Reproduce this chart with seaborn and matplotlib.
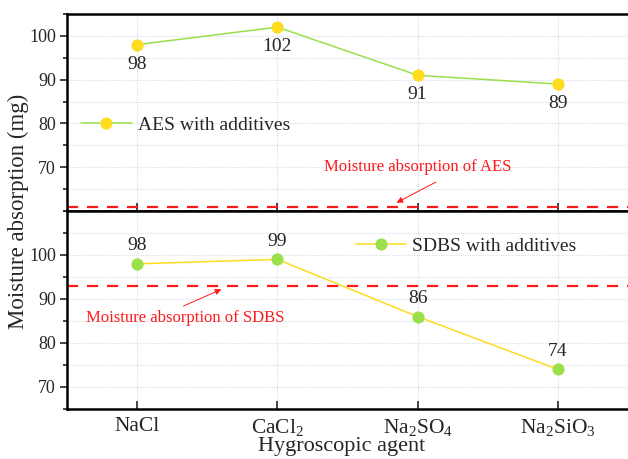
import matplotlib
matplotlib.use("Agg")
import matplotlib.pyplot as plt
import seaborn as sns
import pandas as pd
from matplotlib.ticker import MultipleLocator

sns.set_style("white")
plt.rcParams['font.family'] = ['Liberation Serif', 'DejaVu Serif']
plt.rcParams['mathtext.fontset'] = 'custom'
plt.rcParams['mathtext.rm'] = 'Liberation Serif'
plt.rcParams['mathtext.it'] = 'Liberation Serif:italic'

agents = ["NaCl", "CaCl$_2$", "Na$_2$SO$_4$", "Na$_2$SiO$_3$"]
aes_vals = [98, 102, 91, 89]
sdbs_vals = [98, 99, 86, 74]
aes_ref = 61
sdbs_ref = 93

df_aes = pd.DataFrame({"pos": range(len(agents)), "val": aes_vals})
df_sdbs = pd.DataFrame({"pos": range(len(agents)), "val": sdbs_vals})

fig = plt.figure(figsize=(6.28, 4.59), dpi=100)
ax1 = fig.add_axes([67/628, 1-211/459, 1-67/628, 197/459])
ax2 = fig.add_axes([67/628, 1-409/459, 1-67/628, 198/459])

green = "#9be04a"
yellow = "#ffdc1e"
red = "#ff1a1a"

sns.lineplot(data=df_aes, x="pos", y="val", ax=ax1, color=green, lw=1.1,
             marker="o", markersize=8, markerfacecolor=yellow, markeredgecolor=yellow,
             label="AES with additives")
sns.lineplot(data=df_sdbs, x="pos", y="val", ax=ax2, color=yellow, lw=1.1,
             marker="o", markersize=8, markerfacecolor=green, markeredgecolor=green,
             label="SDBS with additives")

ax1.axhline(aes_ref, color=red, ls=(0, (5, 4)), lw=1.6, zorder=1)
ax2.axhline(sdbs_ref, color=red, ls=(0, (5, 4)), lw=1.6, zorder=1)

for i, v in enumerate(aes_vals):
    ax1.annotate(str(v), (i, v), xytext=(0, -14), textcoords="offset points",
                 ha="center", va="center", fontsize=14)
for i, v in enumerate(sdbs_vals):
    ax2.annotate(str(v), (i, v), xytext=(0, 13), textcoords="offset points",
                 ha="center", va="center", fontsize=14)

ax1.set_ylim(60, 105)
ax2.set_ylim(65, 110)
for ax in (ax1, ax2):
    ax.set_xlim(-0.5, 3.5)
    ax.set_xticks(range(len(agents)))
    ax.yaxis.set_major_locator(MultipleLocator(10))
    ax.yaxis.set_minor_locator(MultipleLocator(5))
    ax.grid(True, which="both", color="#d8def0", ls=(0, (1, 1)), lw=0.8)
    ax.set_axisbelow(True)
    ax.tick_params(axis="y", which="major", direction="out", length=5, width=1.2,
                   labelsize=13, left=True, pad=3)
    ax.tick_params(axis="y", which="minor", direction="out", length=3, width=1.2, left=True)
    ax.tick_params(axis="x", direction="in", length=6, width=1.2, bottom=True, labelsize=15.5)
    for s in ("left", "top", "bottom"):
        ax.spines[s].set_linewidth(1.8)
        ax.spines[s].set_color("black")
    ax.spines["right"].set_visible(False)
    ax.set_xlabel("")
    ax.set_ylabel("")

ax1.set_yticks([70, 80, 90, 100])
ax2.set_yticks([70, 80, 90, 100])
ax1.set_xticklabels([])
ax2.set_xticklabels(agents)
ax2.tick_params(axis="x", pad=6)

leg1 = ax1.legend(loc="center left", bbox_to_anchor=(0.008, 0.435), frameon=False,
                  fontsize=14, handlelength=2.6, handletextpad=0.3, borderpad=0)
leg2 = ax2.legend(loc="center left", bbox_to_anchor=(0.497, 0.822), frameon=False,
                  fontsize=14, handlelength=2.6, handletextpad=0.3, borderpad=0)

ax1.text(2.0, 70.0, "Moisture absorption of AES", color=red, fontsize=12,
         ha="center", va="center")
ax1.annotate("", xy=(1.85, 61.9), xytext=(2.13, 66.6),
             arrowprops=dict(arrowstyle="-|>", color=red, lw=0.7, mutation_scale=9,
                             shrinkA=0, shrinkB=0))
ax2.text(0.34, 85.7, "Moisture absorption of SDBS", color=red, fontsize=12,
         ha="center", va="center")
ax2.annotate("", xy=(0.6, 92.2), xytext=(0.33, 88.4),
             arrowprops=dict(arrowstyle="-|>", color=red, lw=0.7, mutation_scale=9,
                             shrinkA=0, shrinkB=0))

fig.text(18/628, 1-211/459, "Moisture absorption (mg)", rotation=90, ha="center",
         va="center", fontsize=16.5)
fig.text(342/628, 1-446/459, "Hygroscopic agent", ha="center", va="center", fontsize=16)

fig.savefig("out.png", dpi=100, facecolor="white")
